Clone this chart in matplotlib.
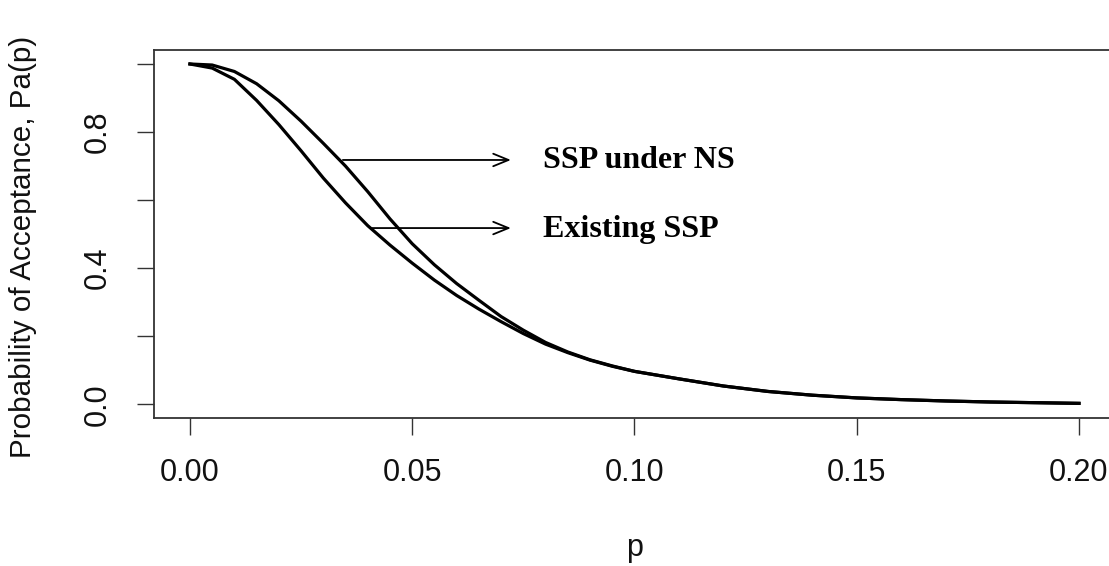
import matplotlib
matplotlib.use("Agg")
import matplotlib.pyplot as plt

# Lot fraction defective
p = [0.0, 0.005, 0.01, 0.015, 0.02, 0.025, 0.03, 0.035, 0.04, 0.045, 0.05,
     0.055, 0.06, 0.065, 0.07, 0.075, 0.08, 0.085, 0.09, 0.095, 0.10,
     0.11, 0.12, 0.13, 0.14, 0.15, 0.16, 0.17, 0.18, 0.19, 0.20]

# SSP under NS (upper curve)
pa_ns = [1.0, 0.997, 0.978, 0.942, 0.892, 0.832, 0.767, 0.70, 0.625, 0.545, 0.472,
         0.41, 0.355, 0.306, 0.258, 0.218, 0.182, 0.154, 0.131, 0.113, 0.097,
         0.075, 0.054, 0.038, 0.027, 0.019, 0.014, 0.010, 0.007, 0.005, 0.003]

# Existing SSP (lower curve)
pa_existing = [1.0, 0.988, 0.955, 0.893, 0.822, 0.745, 0.665, 0.592, 0.525, 0.468, 0.415,
               0.365, 0.32, 0.28, 0.243, 0.208, 0.177, 0.152, 0.13, 0.112, 0.097,
               0.075, 0.054, 0.038, 0.027, 0.019, 0.014, 0.010, 0.007, 0.005, 0.003]

xticks = [0.00, 0.05, 0.10, 0.15, 0.20]
xtick_labels = ["0.00", "0.05", "0.10", "0.15", "0.20"]
yticks = [0.0, 0.2, 0.4, 0.6, 0.8, 1.0]
ytick_labels = ["0.0", "", "0.4", "", "0.8", ""]

labels = ["SSP under NS", "Existing SSP"]
arrow_start_x = [0.0344, 0.0410]
arrow_end_x = [0.0722, 0.0722]
arrow_y = [0.718, 0.518]
text_x = 0.0795

sans = ["Liberation Sans", "DejaVu Sans"]
serif = ["Liberation Serif", "DejaVu Serif"]

fig = plt.figure(figsize=(11.09, 5.66), dpi=100)
ax = fig.add_axes([0.1392, 0.2615, 0.8658, 0.6495])

ax.plot(p, pa_existing, color="black", lw=2.3, solid_joinstyle="round")
ax.plot(p, pa_ns, color="black", lw=2.3, solid_joinstyle="round")

ax.set_xlim(-0.008, 0.208)
ax.set_ylim(-0.04, 1.04)

ax.set_xticks(xticks)
ax.set_xticklabels(xtick_labels, fontfamily=sans, fontsize=22)
ax.set_yticks(yticks)
ax.set_yticklabels(ytick_labels, fontfamily=sans, fontsize=22, rotation=90,
                   va="center")
ax.tick_params(axis="both", length=12, width=1.0, color="#333333",
               labelcolor="#111111")
ax.tick_params(axis="x", pad=17)
ax.tick_params(axis="y", pad=18)

for s in ax.spines.values():
    s.set_linewidth(1.3)
    s.set_color("#333333")

ax.set_xlabel("p", fontfamily=sans, fontsize=22, color="#111111", labelpad=32)
ax.set_ylabel("Probability of Acceptance, Pa(p)", fontfamily=sans,
              fontsize=21.3, color="#111111")
ax.yaxis.set_label_coords(-0.122, 0.465)

for lab, x0, x1, y in zip(labels, arrow_start_x, arrow_end_x, arrow_y):
    ax.annotate("", xy=(x1, y), xytext=(x0, y),
                arrowprops=dict(arrowstyle="->,head_length=1.1,head_width=0.45",
                                color="black", lw=1.3, shrinkA=0, shrinkB=0))
    ax.text(text_x, y - 0.003, lab, fontfamily=serif, fontweight="bold",
            fontsize=23, va="center", ha="left", color="black")

fig.savefig("out.png", dpi=100)
